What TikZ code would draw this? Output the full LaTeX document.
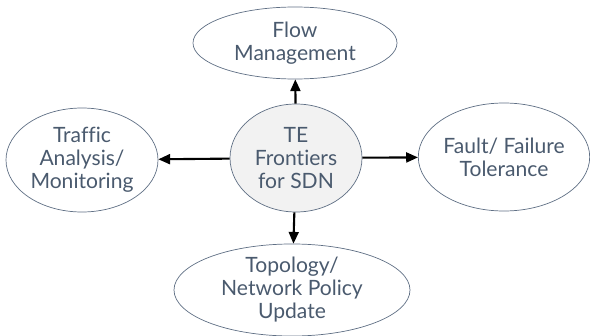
\documentclass[tikz,border=0pt]{standalone}
\usepackage{fontspec}
\setmainfont{Lato}[Ligatures=NoCommon]
\usetikzlibrary{shapes.geometric,arrows.meta}
\definecolor{txtgray}{HTML}{4A5A6E}
\definecolor{rimgray}{HTML}{5F6F84}
\definecolor{hubfill}{HTML}{F2F2F2}

\begin{document}
\begin{tikzpicture}[x=0.03cm, y=-0.03cm,
                    ell_style/.style={ellipse, draw=rimgray, line width=0.6pt, inner sep=0pt,
                                      align=center, text=txtgray,
                                      font=\fontsize{18}{19.6}\selectfont},
                    hub_style/.style={ell_style, fill=hubfill},
                    edge_style/.style={-{Triangle[length=10pt, width=8.5pt]}, draw=black, line width=1.8pt}
   ]
   \useasboundingbox (0,0) rectangle (590,335);
   \node[hub_style, minimum width=3.96cm, minimum height=3.24cm] (te) at (296,158) {TE\\Frontiers\\for SDN};
   % Outer topics
   \node[ell_style, minimum width=6.12cm, minimum height=2.16cm] (flow) at (295,43) {Flow\\Management};
   \node[ell_style, minimum width=4.56cm, minimum height=3.12cm] (traffic) at (82,160) {Traffic\\Analysis/\\Monitoring};
   \node[ell_style, minimum width=5.04cm, minimum height=3.24cm] (fault) at (504,157) {Fault/ Failure\\Tolerance};
   \node[ell_style, minimum width=7.08cm, minimum height=2.58cm] (topo) at (292,290) {Topology/\\Network Policy\\Update};

   \draw[edge_style] (te) -- (flow);
   \draw[edge_style] (te) -- (traffic);
   \draw[edge_style] (te) -- (fault);
   \draw[edge_style] (te) -- (topo);
\end{tikzpicture}
\end{document}
